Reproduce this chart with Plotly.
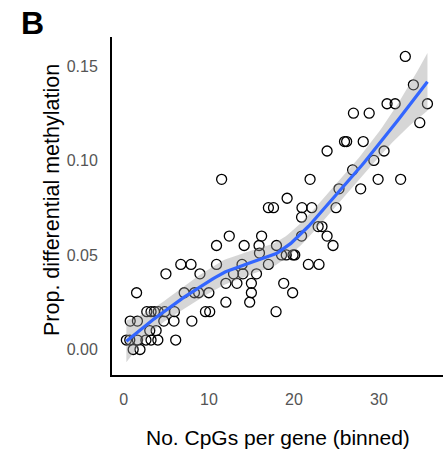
import numpy as np
import plotly.graph_objects as go

# Data (x = No. CpGs per gene (binned), y = proportion)
cpg_x = [
    1.1, 1.9,
    0.3, 0.7, 1.6, 2.6, 3.2, 4.0, 6.1,
    3.05, 3.8,
    0.75, 1.6, 4.7, 5.9, 8.0,
    2.7, 3.2, 3.6, 4.05, 4.8, 5.95, 9.6, 10.1, 17.9,
    12.0, 14.8,
    1.5, 7.1, 8.3, 8.8, 10.0, 15.0, 19.85,
    12.0, 13.3, 15.0, 18.8,
    4.95, 8.95, 12.9, 14.0, 15.6,
    6.7, 7.9, 10.9, 13.9, 17.0, 21.7, 22.95,
    15.95, 18.55, 19.1, 19.9, 20.1,
    10.9, 14.15, 15.9, 17.95, 24.6,
    12.4, 16.2, 20.9, 23.9,
    22.85, 23.3,
    20.9,
    17.0, 17.6, 20.95, 22.1, 24.95,
    19.2,
    25.3, 27.85,
    11.5, 21.9, 29.9, 32.55,
    26.9,
    29.4,
    23.9, 30.6,
    25.95, 26.2, 28.15,
    34.8,
    27.0, 28.85,
    30.95, 31.9, 35.7,
    34.05,
    33.1,
]
prop_dm = [
    0.000, 0.000,
    0.005, 0.005, 0.005, 0.005, 0.005, 0.005, 0.005,
    0.010, 0.010,
    0.015, 0.015, 0.015, 0.015, 0.015,
    0.020, 0.020, 0.020, 0.020, 0.020, 0.020, 0.020, 0.020, 0.020,
    0.025, 0.025,
    0.030, 0.030, 0.030, 0.030, 0.030, 0.030, 0.030,
    0.035, 0.035, 0.035, 0.035,
    0.040, 0.040, 0.040, 0.040, 0.040,
    0.045, 0.045, 0.045, 0.045, 0.045, 0.045, 0.045,
    0.051, 0.050, 0.050, 0.050, 0.050,
    0.055, 0.055, 0.055, 0.055, 0.055,
    0.060, 0.060, 0.060, 0.060,
    0.065, 0.065,
    0.070,
    0.075, 0.075, 0.075, 0.075, 0.075,
    0.080,
    0.085, 0.085,
    0.090, 0.090, 0.090, 0.090,
    0.095,
    0.100,
    0.105, 0.105,
    0.110, 0.110, 0.110,
    0.120,
    0.125, 0.125,
    0.130, 0.130, 0.130,
    0.140,
    0.155,
]
x_ticks = [0, 10, 20, 30]
y_ticks = [0.00, 0.05, 0.10, 0.15]
y_tick_labels = ["0.00", "0.05", "0.10", "0.15"]


def loess_fit(x, y, grid, span=0.75):
    x = np.asarray(x, float)
    y = np.asarray(y, float)
    n = len(x)
    q = int(np.floor(n * span))

    def row(x0):
        d = np.abs(x - x0)
        h = np.sort(d)[q - 1]
        w = np.clip(1 - (d / h) ** 3, 0, None) ** 3
        X = np.column_stack([np.ones(n), x - x0, (x - x0) ** 2])
        XtW = X.T * w
        A = np.linalg.pinv(XtW @ X)
        return (A @ XtW)[0]

    L = np.array([row(v) for v in x])
    resid = y - L @ y
    IL = np.eye(n) - L
    delta1 = np.trace(IL.T @ IL)
    sigma = np.sqrt(np.sum(resid ** 2) / delta1)
    G = np.array([row(v) for v in grid])
    fit = G @ y
    se = sigma * np.sqrt(np.sum(G ** 2, axis=1))
    return fit, se


grid = np.linspace(min(cpg_x), max(cpg_x), 120)
fit, se = loess_fit(cpg_x, prop_dm, grid)
tval = 1.98
upper = fit + tval * se
lower = fit - tval * se

fig = go.Figure()
fig.add_trace(go.Scatter(
    x=cpg_x, y=prop_dm, mode="markers",
    marker=dict(symbol="circle-open", size=10, color="black",
                line=dict(width=1.3, color="black")),
    showlegend=False, hoverinfo="skip"))
fig.add_trace(go.Scatter(
    x=np.concatenate([grid, grid[::-1]]),
    y=np.concatenate([upper, lower[::-1]]),
    fill="toself", fillcolor="rgba(153,153,153,0.4)",
    line=dict(width=0), mode="lines", showlegend=False, hoverinfo="skip"))
fig.add_trace(go.Scatter(
    x=grid, y=fit, mode="lines",
    line=dict(color="#3366FF", width=3.2),
    showlegend=False, hoverinfo="skip"))

font_family = "Liberation Sans, Arial, Helvetica, sans-serif"
fig.update_layout(
    width=446, height=451,
    margin=dict(l=112, r=3, t=37, b=76, pad=0),
    paper_bgcolor="white", plot_bgcolor="white",
    font=dict(family=font_family, color="black"),
    showlegend=False,
    xaxis=dict(range=[-1.39, 37.53], tickvals=x_ticks, showgrid=False,
               zeroline=False, showline=True, linecolor="black", linewidth=2,
               ticks="", ticklabelstandoff=9,
               tickfont=dict(size=16, color="#555555", family=font_family)),
    yaxis=dict(range=[-0.0135, 0.1653], tickvals=y_ticks, ticktext=y_tick_labels,
               showgrid=False, zeroline=False, showline=True, linecolor="black",
               linewidth=2, ticks="", ticklabelstandoff=9,
               tickfont=dict(size=16, color="#555555", family=font_family)),
    annotations=[
        dict(text="No. CpGs per gene (binned)", xref="paper", yref="paper",
             x=0.5, y=-0.186, xanchor="center", yanchor="middle",
             showarrow=False, font=dict(size=21, color="black", family=font_family)),
        dict(text="Prop. differential methylation", xref="paper", yref="paper",
             x=-0.181, y=0.518, xanchor="center", yanchor="middle", textangle=-90,
             showarrow=False, font=dict(size=21.5, color="black", family=font_family)),
        dict(text="<b>B</b>", xref="paper", yref="paper",
             x=-0.239, y=1.041, xanchor="center", yanchor="middle",
             showarrow=False, font=dict(size=32, color="black", family=font_family)),
    ],
)

fig.write_html(
    "out.html",
    config={"displayModeBar": False},
    post_script="document.body.style.margin='0';document.body.style.overflow='hidden';",
)
